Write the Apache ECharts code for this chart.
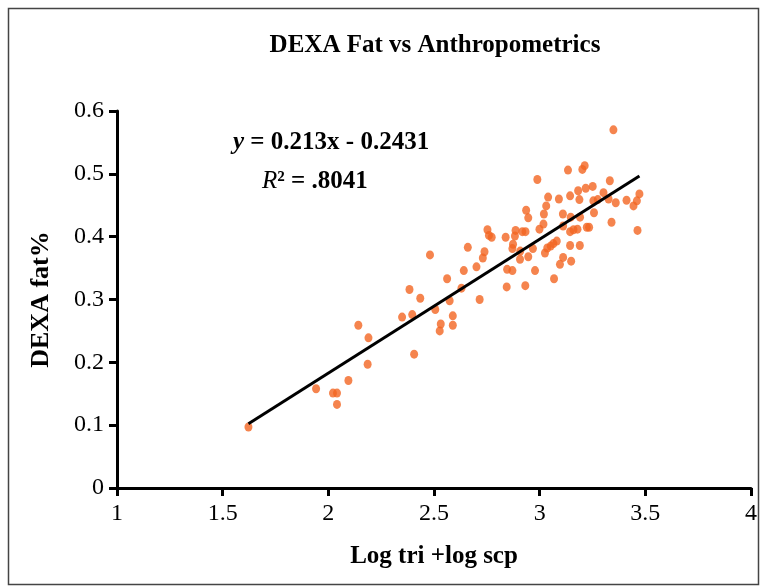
<!DOCTYPE html>
<html>
<head>
<meta charset="utf-8">
<script src="https://cdn.jsdelivr.net/npm/echarts@6/dist/echarts.min.js"></script>
<style>
html,body{margin:0;padding:0;background:#fff;}
#chart{width:762px;height:587px;}
</style>
</head>
<body>
<div id="chart"></div>
<script>
var logTriScp = [
1.622,1.942,2.022,2.041,2.041,2.095,2.142,2.190,2.186,2.349,
2.384,2.397,2.406,2.435,2.506,2.562,2.574,2.532,2.527,2.589,
2.589,2.481,2.630,2.641,2.660,2.701,2.716,2.739,2.731,2.753,
2.760,2.773,2.839,2.846,2.871,2.844,2.886,2.883,2.918,2.933,
2.874,2.871,2.908,2.907,2.946,2.932,2.936,2.946,2.968,2.978,
2.989,2.999,3.020,3.018,3.031,3.040,3.025,3.036,3.052,3.065,
3.081,3.068,3.091,3.096,3.111,3.110,3.111,3.134,3.144,3.147,
3.144,3.160,3.179,3.144,3.149,3.182,3.188,3.191,3.190,3.202,
3.213,3.218,3.223,3.234,3.251,3.254,3.257,3.275,3.302,3.326,
3.332,3.340,3.349,3.360,3.411,3.444,3.460,3.472,3.463
];
var dexaFat = [
0.097,0.158,0.151,0.151,0.133,0.171,0.259,0.239,0.197,0.272,
0.316,0.276,0.213,0.302,0.284,0.333,0.298,0.261,0.250,0.274,
0.259,0.371,0.318,0.346,0.383,0.352,0.300,0.376,0.366,0.411,
0.402,0.399,0.399,0.348,0.346,0.320,0.410,0.401,0.408,0.408,
0.388,0.381,0.377,0.364,0.368,0.322,0.442,0.430,0.381,0.346,
0.491,0.412,0.436,0.420,0.449,0.463,0.374,0.382,0.385,0.389,
0.393,0.333,0.460,0.356,0.367,0.436,0.417,0.506,0.465,0.431,
0.408,0.411,0.412,0.386,0.361,0.473,0.459,0.431,0.386,0.507,
0.513,0.477,0.415,0.415,0.480,0.457,0.438,0.459,0.470,0.460,
0.489,0.423,0.570,0.454,0.458,0.449,0.457,0.468,0.410
];
var trendCoef = [0.213, -0.2431]; // slope, intercept
var xTicks = [1, 1.5, 2, 2.5, 3, 3.5, 4];
var yTicks = [0, 0.1, 0.2, 0.3, 0.4, 0.5, 0.6];

var points = logTriScp.map(function (x, i) { return [x, dexaFat[i]]; });
var xMin = Math.min.apply(null, logTriScp);
var xMax = Math.max.apply(null, logTriScp);
var trend = [xMin, xMax].map(function (x) { return [x, trendCoef[0] * x + trendCoef[1]]; });

var serif = '"Liberation Serif","Times New Roman",serif';
var chart = echarts.init(document.getElementById('chart'));
chart.setOption({
  animation: false,
  backgroundColor: '#fff',
  title: {
    text: 'DEXA Fat vs Anthropometrics',
    left: 430, top: 28, textAlign: 'center',
    textStyle: { fontFamily: serif, fontWeight: 'bold', fontSize: 25, color: '#000' }
  },
  graphic: [
    { type: 'rect', left: 6, top: 6, shape: { width: 750, height: 576 },
      style: { fill: 'none', stroke: '#444', lineWidth: 1.5 }, silent: true },
    { type: 'text', left: 233, top: 130,
      style: { text: '{i|y} = 0.213x - 0.2431', font: 'bold 25px ' + serif, fill: '#000',
        rich: { i: { fontStyle: 'italic', fontWeight: 'bold', fontSize: 25, fontFamily: serif } } } },
    { type: 'text', left: 262, top: 169,
      style: { text: '{i|R}\u00B2 = .8041', font: 'bold 25px ' + serif, fill: '#000',
        rich: { i: { fontStyle: 'italic', fontWeight: 'normal', fontSize: 25, fontFamily: serif } } } }
  ],
  grid: { left: 117, right: 11, top: 111, bottom: 99 },
  xAxis: {
    type: 'value', min: xTicks[0], max: xTicks[xTicks.length - 1], interval: 0.5,
    name: 'Log tri +log scp', nameLocation: 'middle', nameGap: 56,
    nameTextStyle: { fontFamily: serif, fontWeight: 'bold', fontSize: 25, color: '#000' },
    axisLine: { show: true, lineStyle: { color: '#000', width: 3 } },
    axisTick: { show: true, length: 8, inside: false, lineStyle: { color: '#000', width: 3 } },
    axisLabel: { fontFamily: serif, fontSize: 24, color: '#000', margin: 14,
      formatter: function (v) { return String(v); } },
    splitLine: { show: false }
  },
  yAxis: {
    type: 'value', min: yTicks[0], max: yTicks[yTicks.length - 1], interval: 0.1,
    name: 'DEXA fat%', nameLocation: 'middle', nameGap: 63,
    nameTextStyle: { fontFamily: serif, fontWeight: 'bold', fontSize: 26, color: '#000' },
    axisLine: { show: true, lineStyle: { color: '#000', width: 3 } },
    axisTick: { show: true, length: 8, inside: false, lineStyle: { color: '#000', width: 3 } },
    axisLabel: { fontFamily: serif, fontSize: 24, color: '#000', margin: 13,
      formatter: function (v) { return String(Math.round(v * 10) / 10); } },
    splitLine: { show: false }
  },
  series: [
    { type: 'scatter', data: points, symbol: 'circle', symbolSize: [8, 9],
      itemStyle: { color: '#F26522' }, z: 3 },
    { type: 'line', data: trend, showSymbol: false, symbol: 'none',
      lineStyle: { color: '#000', width: 3 }, z: 4 }
  ]
});
</script>
</body>
</html>
